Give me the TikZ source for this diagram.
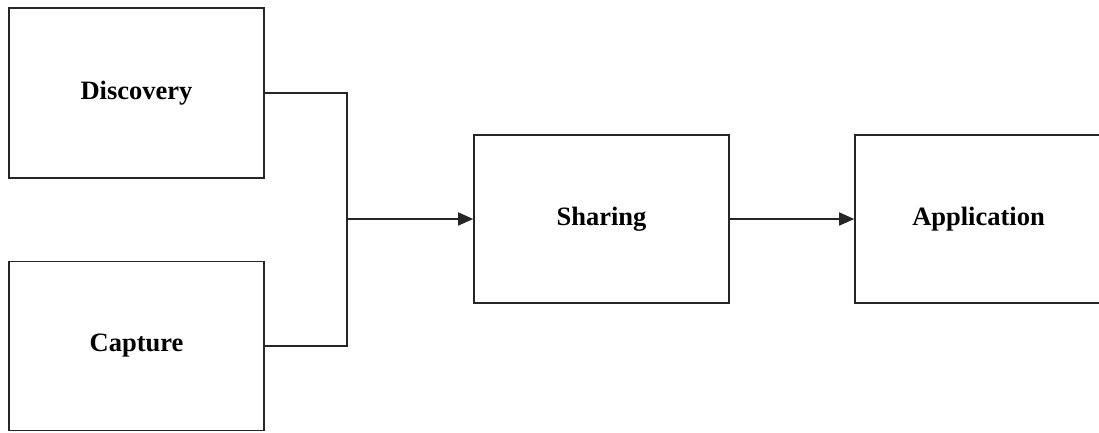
\documentclass[tikz,border=0pt]{standalone}
\usepackage{fontspec}
\setmainfont{Liberation Serif}
\usetikzlibrary{arrows.meta}
\begin{document}
\begin{tikzpicture}[x=1pt,y=-1pt,
  box/.style={draw=black!85,line width=1.6pt,rectangle,inner sep=0pt,
    font=\fontsize{26.5}{30}\selectfont\bfseries},
  conn/.style={draw=black!85,line width=1.6pt},
  arr/.style={conn,-{Triangle[length=15pt,width=13pt]}}]
\useasboundingbox (0,0) rectangle (1099,432);
\node[box,minimum width=255pt,minimum height=170pt] (disc) at (136.5,93) {Discovery};
\node[box,minimum width=255pt,minimum height=169pt] (cap) at (136.5,346) {Capture};
\node[box,minimum width=255pt,minimum height=168pt] (shar) at (601.5,219) {Sharing};
\node[box,minimum width=247pt,minimum height=168pt] (appl) at (978.5,219) {Application};
\coordinate (bot) at (347,346);
\coordinate (mid) at (347,219);
\draw[conn] (disc.east) -| (bot) -- (cap.east);
\draw[arr] (mid) -- (shar.west);
\draw[arr] (shar.east) -- (appl.west);
\end{tikzpicture}
\end{document}
